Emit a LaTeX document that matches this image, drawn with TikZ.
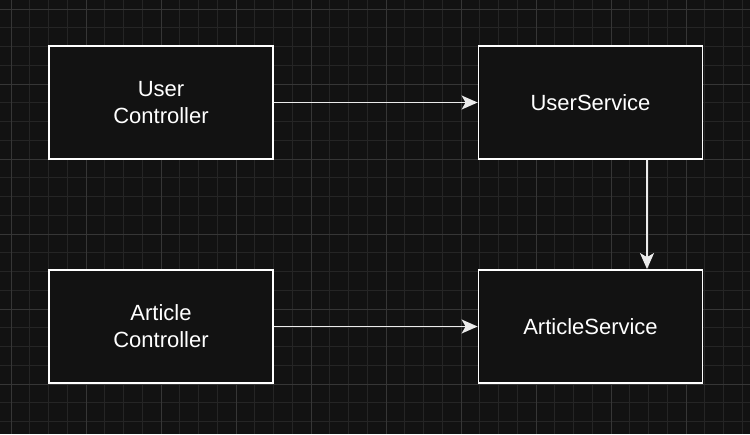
\documentclass[tikz,border=0pt]{standalone}
\usepackage{fontspec}
\setmainfont{Liberation Sans}
\usetikzlibrary{arrows.meta}
\definecolor{bg}{HTML}{121212}
\definecolor{minorgrid}{HTML}{252525}
\definecolor{majorgrid}{HTML}{363636}
\definecolor{boxfill}{HTML}{121212}
\tikzset{
  box/.style={draw=white, line width=1.8pt, fill=boxfill, minimum width=224pt, minimum height=113pt, inner sep=0pt, align=center, text=white, font=\fontsize{22}{27}\selectfont},
  conn/.style={draw=white!92!black, line width=1.5pt, -{Stealth[length=16pt,width=14pt,inset=4pt]}}
}
\begin{document}
\begin{tikzpicture}[x=1pt,y=-1pt]
\fill[bg] (0,0) rectangle (750,434);
\useasboundingbox (0,0) rectangle (750,434);
\foreach \i in {-1,...,40} {
  \draw[minorgrid, line width=0.8pt] ({11+18.75*\i},0) -- ({11+18.75*\i},434);
}
\foreach \i in {-1,...,24} {
  \draw[minorgrid, line width=0.8pt] (0,{9+18.75*\i}) -- (750,{9+18.75*\i});
}
\foreach \i in {0,...,10} {
  \draw[majorgrid, line width=1pt] ({11+75*\i},0) -- ({11+75*\i},434);
}
\foreach \i in {0,...,6} {
  \draw[majorgrid, line width=1pt] (0,{9+75*\i}) -- (750,{9+75*\i});
}
\node[box] (uc) at (161,102.5) {User\\Controller};
\node[box] (us) at (590.5,102.5) {UserService};
\node[box] (ac) at (161,326.5) {Article\\Controller};
\node[box] (as) at (590.5,326.5) {ArticleService};
\draw[conn] (uc.east) -- (us.west);
\draw[conn] (ac.east) -- (as.west);
\draw[conn] (us.south -| 647,0) -- (as.north -| 647,0);
\end{tikzpicture}
\end{document}
